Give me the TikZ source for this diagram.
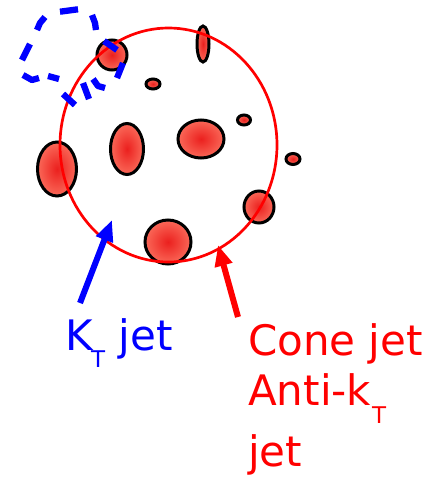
\documentclass[tikz,border=0pt]{standalone}
\usepackage{fontspec}
\setmainfont{DejaVu Sans}
\usetikzlibrary{arrows.meta,shapes.geometric}
\definecolor{jetred}{RGB}{255,0,0}
\definecolor{jetblue}{RGB}{0,0,255}
\definecolor{blobin}{RGB}{235,32,30}
\definecolor{blobout}{RGB}{250,104,88}
\tikzset{
  blobline/.style={draw=black, line width=3pt},
  bluedash/.style={draw=jetblue, line width=6.3pt, line cap=butt, line join=round},
  conecirc/.style={draw=jetred, line width=2.7pt},
  arrowline/.style={line width=6pt, -{Triangle[length=21pt,width=17pt]}},
  lbl/.style={anchor=base west, inner sep=0pt, font=\fontsize{42}{50}\selectfont}
}
\newcommand{\subT}[1]{\raisebox{#1}{\fontsize{23}{23}\selectfont T}}
\begin{document}
\begin{tikzpicture}[x=1pt,y=-1pt]
\useasboundingbox (0,0) rectangle (431,477);
% particles
\foreach \cx/\cy/\rx/\ry in {112/55/15/15, 203/44/6/18, 153/84/7/5, 244/120/6.5/5, 57/169/19.5/27, 127/149/16.5/25.5, 201/139/23/19, 293/159/7/5.5, 259/207/15/16, 168/242/23/22}{
  \shade[inner color=blobin, outer color=blobout] (\cx,\cy) circle[x radius=\rx, y radius=\ry];
  \draw[blobline] (\cx,\cy) circle[x radius=\rx, y radius=\ry];
}
% cone jet
\node[conecirc, ellipse, minimum width=217pt, minimum height=234pt, inner sep=0pt] (cone) at (168.5,145) {};
% kT jet (dashed contour)
\draw[bluedash] (60,11.7) -- (78,9.3);
\draw[bluedash] (45,17) -- (40,23) -- (37,30);
\draw[bluedash] (30,44) -- (22,60);
\draw[bluedash] (23,75) -- (32,80) -- (39,78);
\draw[bluedash] (48,76) -- (59,79);
\draw[bluedash] (63,94) -- (75,105);
\draw[bluedash] (83,83) -- (89,99);
\draw[bluedash] (93,79) -- (98,86) -- (105,88);
\draw[bluedash] (123,63) -- (117,78);
\draw[bluedash] (104,41) -- (117,50);
\draw[bluedash] (92,15) -- (95,23) -- (96,30);
% labels
\node[lbl, text=jetblue] (kt) at (65,350) {K\kern-1.5pt\subT{-17pt}\ jet};
\node[lbl, text=jetred] (cone1) at (248,355) {Cone jet};
\node[lbl, text=jetred] (cone2) at (248,405) {Anti-k\kern1pt\subT{-18pt}};
\node[lbl, text=jetred] (cone3) at (248,466) {jet};
% arrows
\coordinate (kttail) at (80,303);
\coordinate (kttip) at (112,220);
\coordinate (conetail) at (238,317);
\coordinate (conetip) at (218,245);
\draw[arrowline, draw=jetblue, fill=jetblue] (kttail) -- (kttip);
\draw[arrowline, draw=jetred, fill=jetred] (conetail) -- (conetip);
\end{tikzpicture}
\end{document}
